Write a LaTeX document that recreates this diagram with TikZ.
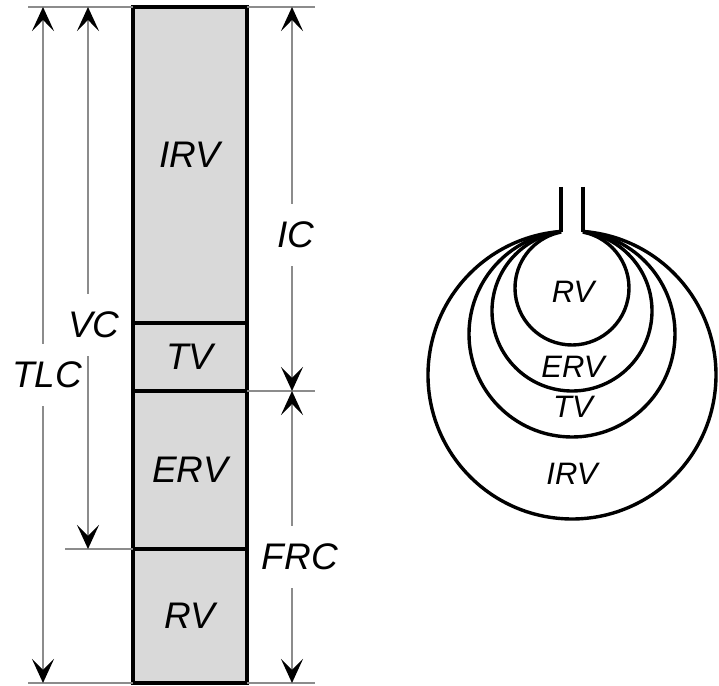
\documentclass[tikz,border=0pt]{standalone}
\usepackage{fontspec}
\setmainfont{Liberation Sans}
\usetikzlibrary{arrows.meta, positioning, calc}
\definecolor{lung-gray}{HTML}{D9D9D9}
\definecolor{dim-gray}{HTML}{8C8C8C}

\begin{document}
\begin{tikzpicture}[x=0.5pt, y=0.5pt,
    vol/.style={draw, line width=1.9pt, fill=lung-gray, minimum width=57pt, outer sep=0pt,
        font=\fontsize{18.5}{20}\selectfont\itshape},
    dimline/.style={draw=dim-gray, line width=0.7pt},
    dimarrow/.style={dim-gray, line width=0.7pt,
        {Stealth[length=12pt, width=11pt, inset=5.5pt, color=black]}-{Stealth[length=12pt, width=11pt, inset=5.5pt, color=black]}},
    dimlabel/.style={fill=white, text=black, inner xsep=1pt, inner ysep=9pt, font=\fontsize{18.5}{20}\selectfont\itshape},
    balloon/.style={line width=1.7pt},
    balloonlabel/.style={inner sep=1pt, font=\fontsize{15.5}{17}\selectfont\itshape}
]
    \useasboundingbox (0,0) rectangle (719,686);

    % volume bar
    \node (irv) [vol, minimum height=158pt, anchor=north west] at (133,679) {\raisebox{10pt}{IRV}};
    \node (tv) [vol, minimum height=34pt, below=0pt of irv] {TV};
    \node (erv) [vol, minimum height=79pt, below=0pt of tv] {ERV};
    \node (rv) [vol, minimum height=67pt, below=0pt of erv] {RV};

    % extension lines
    \coordinate (top-l) at (28,679);
    \coordinate (top-r) at (315,679);
    \coordinate (bot-l) at (28,3);
    \coordinate (bot-r) at (315,3);
    \coordinate (frc-r) at (315,295);
    \coordinate (vc-l) at (65,137);
    \draw [dimline] (top-l) -- (irv.north west);
    \draw [dimline] (irv.north east) -- (top-r);
    \draw [dimline] (bot-l) -- (rv.south west);
    \draw [dimline] (rv.south east) -- (bot-r);
    \draw [dimline] (erv.north east) -- (frc-r);
    \draw [dimline] (vc-l) -- (rv.north west);

    % capacities
    \coordinate (tlc-top) at (43,679);
    \coordinate (tlc-bot) at (43,3);
    \coordinate (vc-top) at (88,679);
    \coordinate (vc-bot) at (88,137);
    \coordinate (ic-top) at (292,679);
    \coordinate (ic-bot) at (292,295);
    \coordinate (frc-bot) at (292,3);
    \draw [dimarrow] (tlc-top) -- node[dimlabel, pos=0.544, xshift=2pt] {TLC} (tlc-bot);
    \draw [dimarrow] (vc-top) -- node[dimlabel, pos=0.587, xshift=3pt] {VC} (vc-bot);
    \draw [dimarrow] (ic-top) -- node[dimlabel, pos=0.594, xshift=2pt] {IC} (ic-bot);
    \draw [dimarrow] (ic-bot) -- node[dimlabel, pos=0.568, xshift=4pt] {FRC} (frc-bot);

    % lung balloon
    \coordinate (tube-l) at (561,499);
    \coordinate (tube-r) at (583,499);
    \draw [balloon] (tube-l) -- (561,454);
    \draw [balloon] (tube-r) -- (583,454);
    \foreach \r/\cy in {57/398, 80/375, 103/352, 144/311}
        \draw [balloon] ($(572,\cy)+({acos(11/\r)}:\r)$)
            arc[start angle={acos(11/\r)}, end angle={-180-acos(11/\r)}, radius=\r];

    \node (rv-b) [balloonlabel] at (573,394) {RV};
    \node (erv-b) [balloonlabel] at (573,319) {ERV};
    \node (tv-b) [balloonlabel] at (573,279) {TV};
    \node (irv-b) [balloonlabel] at (572,212) {IRV};
\end{tikzpicture}
\end{document}
